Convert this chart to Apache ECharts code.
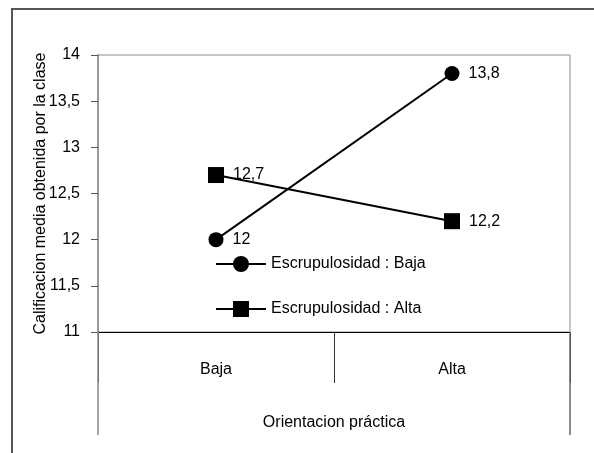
<!DOCTYPE html>
<html>
<head>
<meta charset="utf-8">
<script src="https://cdn.jsdelivr.net/npm/echarts@6/dist/echarts.min.js"></script>
<style>
  html, body { margin: 0; padding: 0; background: #fff; }
  #chart { width: 594px; height: 453px; }
</style>
</head>
<body>
<div id="chart"></div>
<script>
// Categories of the x axis (practical orientation levels)
const categories = ['Baja', 'Alta'];
// Mean class grade for each conscientiousness level
const escrupulosidadBaja = [12, 13.8];
const escrupulosidadAlta = [12.7, 12.2];
// Value axis range and step
const yMin = 11;
const yMax = 14;
const yStep = 0.5;

const seriesNames = ['Escrupulosidad : Baja', 'Escrupulosidad : Alta'];
const FONT = "'Liberation Sans', Arial, sans-serif";
const FS = 16;
const grid = { left: 98, top: 55, right: 24, bottom: 121 };
const W = 594, H = 453;
const plotRight = W - grid.right;
const plotBottom = H - grid.bottom;
const tableBottom = 435;

const commaDecimal = v => String(v).replace('.', ',');

const chart = echarts.init(document.getElementById('chart'), null, { renderer: 'canvas' });

chart.setOption({
  animation: false,
  backgroundColor: '#ffffff',
  textStyle: { fontFamily: FONT, color: '#000' },
  grid: {
    left: grid.left, top: grid.top, right: grid.right, bottom: grid.bottom,
    show: true, borderColor: '#8a8a8a', borderWidth: 1, backgroundColor: 'transparent'
  },
  legend: {
    orient: 'vertical',
    left: 210,
    top: 251,
    itemWidth: 50,
    itemHeight: 20,
    itemGap: 29,
    textStyle: { fontFamily: FONT, fontSize: FS, color: '#000' },
    data: seriesNames
  },
  xAxis: {
    type: 'category',
    data: categories,
    boundaryGap: true,
    name: 'Orientacion práctica',
    nameLocation: 'middle',
    nameGap: 83,
    nameMoveOverlap: false,
    nameTextStyle: { fontFamily: FONT, fontSize: FS, color: '#000' },
    axisLine: { show: true, lineStyle: { color: '#000', width: 1 } },
    axisTick: { show: true, alignWithLabel: false, length: 51, lineStyle: { color: '#333', width: 1 } },
    axisLabel: { fontFamily: FONT, fontSize: FS, color: '#000', margin: 30 },
    splitLine: { show: false }
  },
  yAxis: {
    type: 'value',
    min: yMin,
    max: yMax,
    interval: yStep,
    name: 'Calificacion media obtenida por la clase',
    nameLocation: 'middle',
    nameRotate: 90,
    nameGap: 49,
    nameMoveOverlap: false,
    nameTextStyle: { fontFamily: FONT, fontSize: FS, color: '#000' },
    axisLine: { show: true, lineStyle: { color: '#8a8a8a', width: 1.5 } },
    axisTick: { show: true, inside: false, length: 7, lineStyle: { color: '#555', width: 1 } },
    axisLabel: { fontFamily: FONT, fontSize: FS, color: '#000', margin: 18, formatter: commaDecimal },
    splitLine: { show: false }
  },
  graphic: [
    // outer frame
    { type: 'rect', silent: true, z: 100,
      shape: { x: 12, y: 9, width: 700, height: 600 },
      style: { fill: 'none', stroke: '#555', lineWidth: 2 } },
    // category table edges below the plot
    { type: 'line', silent: true, z: 100,
      shape: { x1: grid.left, y1: plotBottom, x2: grid.left, y2: tableBottom },
      style: { stroke: '#8a8a8a', lineWidth: 1.5 } },
    { type: 'line', silent: true, z: 100,
      shape: { x1: plotRight, y1: plotBottom, x2: plotRight, y2: tableBottom },
      style: { stroke: '#666', lineWidth: 1.5 } }
  ],
  series: [
    {
      name: seriesNames[0],
      type: 'line',
      data: escrupulosidadBaja,
      symbol: 'circle',
      symbolSize: 15,
      lineStyle: { color: '#000', width: 2 },
      itemStyle: { color: '#000' },
      label: { show: true, position: 'right', distance: 9, fontFamily: FONT, fontSize: FS, color: '#000', formatter: p => commaDecimal(p.value) }
    },
    {
      name: seriesNames[1],
      type: 'line',
      data: escrupulosidadAlta,
      symbol: 'rect',
      symbolSize: 16,
      lineStyle: { color: '#000', width: 2 },
      itemStyle: { color: '#000' },
      label: { show: true, position: 'right', distance: 9, fontFamily: FONT, fontSize: FS, color: '#000', formatter: p => commaDecimal(p.value) }
    }
  ]
});
</script>
</body>
</html>
